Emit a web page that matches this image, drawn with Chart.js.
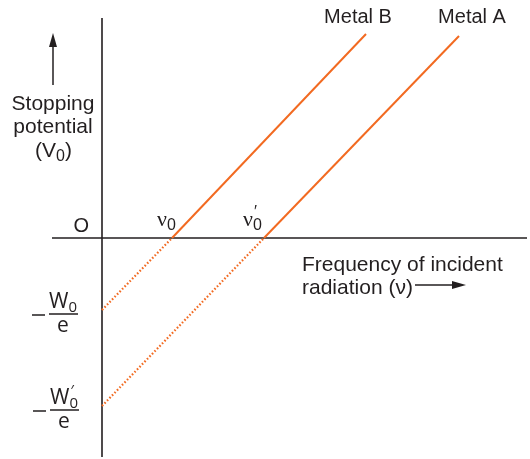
<!DOCTYPE html>
<html>
<head>
<meta charset="utf-8">
<script src="https://cdn.jsdelivr.net/npm/chart.js@4"></script>
<style>
  html, body { margin: 0; padding: 0; background: #fff; }
  #wrap { width: 530px; height: 459px; }
</style>
</head>
<body>
<div id="wrap"><canvas id="peChart" width="530" height="459"></canvas></div>
<script>
// data (arbitrary units)
const metals = ['Metal B', 'Metal A'];
const thresholdFreq = [7.0, 16.2];      // nu0, nu0'
const stopIntercept = [-7.2, -16.8];    // -W0/e, -W0'/e
const lineEndFreq = [26.4, 35.7];
const lineEndV = [20.4, 20.2];
const freqTickLabels = ['ν0', 'ν′0'];
const voltTickLabels = ['W0', 'W′0'];
const xTitle = ['Frequency of incident', 'radiation (ν)'];
const yTitle = ['Stopping', 'potential', '(V0)'];

const orange = '#f26a21';
const ink = '#231f20';

const datasets = [];
metals.forEach(function (name, i) {
    datasets.push({
        label: name,
        data: [{ x: thresholdFreq[i], y: 0 }, { x: lineEndFreq[i], y: lineEndV[i] }],
        borderColor: orange,
        borderWidth: 2,
        pointRadius: 0
    });
    datasets.push({
        label: name + ' (extrapolated)',
        data: [{ x: 0, y: stopIntercept[i] }, { x: thresholdFreq[i], y: 0 }],
        borderColor: orange,
        borderWidth: 2.2,
        borderDash: [1.6, 2],
        pointRadius: 0
    });
});

// draws "X0" with optional prime, sub is the last char
function drawSubLabel(ctx, label, x, y, mainFont, subFont) {
    const main = label.charAt(0);
    const prime = label.indexOf('′') >= 0;
    const sub = label.charAt(label.length - 1);
    ctx.textAlign = 'left';
    ctx.font = mainFont;
    ctx.fillText(main, x, y);
    const w = ctx.measureText(main).width;
    ctx.font = subFont;
    ctx.fillText(sub, x + w, y + 4);
    if (prime) ctx.fillText('′', x + w + 1, y - 9);
    return w + ctx.measureText(sub).width;
}

function arrow(ctx, x1, y1, x2, y2) {
    const a = Math.atan2(y2 - y1, x2 - x1);
    const len = 14, half = 4;
    ctx.beginPath();
    ctx.moveTo(x1, y1);
    ctx.lineTo(x2 - len * Math.cos(a), y2 - len * Math.sin(a));
    ctx.stroke();
    ctx.beginPath();
    ctx.moveTo(x2, y2);
    ctx.lineTo(x2 - len * Math.cos(a) + half * Math.sin(a), y2 - len * Math.sin(a) - half * Math.cos(a));
    ctx.lineTo(x2 - len * Math.cos(a) - half * Math.sin(a), y2 - len * Math.sin(a) + half * Math.cos(a));
    ctx.closePath();
    ctx.fill();
}

const axesPlugin = {
    id: 'axesPlugin',
    beforeDatasetsDraw(chart) {
        const { ctx, chartArea, scales } = chart;
        const ox = scales.x.getPixelForValue(0);
        const oy = scales.y.getPixelForValue(0);
        ctx.save();
        ctx.strokeStyle = ink;
        ctx.lineWidth = 1.6;
        ctx.beginPath();
        ctx.moveTo(ox, chartArea.top);
        ctx.lineTo(ox, chartArea.bottom);
        ctx.moveTo(chartArea.left, oy);
        ctx.lineTo(chartArea.right, oy);
        ctx.stroke();
        ctx.restore();
    },
    afterDraw(chart) {
        const { ctx, scales } = chart;
        const ox = scales.x.getPixelForValue(0);
        const oy = scales.y.getPixelForValue(0);
        const sans = '"Liberation Sans", Arial, sans-serif';
        const open = '"Open Sans", sans-serif';
        ctx.save();
        ctx.fillStyle = ink;
        ctx.strokeStyle = ink;
        ctx.lineWidth = 1.5;
        ctx.textBaseline = 'alphabetic';

        // metal names at top of each line
        const dx = [-8, 13];
        ctx.font = '20px ' + sans;
        ctx.textAlign = 'center';
        metals.forEach(function (name, i) {
            ctx.fillText(name, scales.x.getPixelForValue(lineEndFreq[i]) + dx[i], 23);
        });

        // origin
        ctx.textAlign = 'right';
        ctx.fillText('O', ox - 13, oy - 6);

        // frequency ticks
        const nuOff = [-15, -21];
        freqTickLabels.forEach(function (lab, i) {
            const px = scales.x.getPixelForValue(thresholdFreq[i]);
            drawSubLabel(ctx, lab, px + nuOff[i], oy - 12, '22px "Liberation Serif", serif', '16px ' + sans);
        });

        // stopping potential ticks: -W/e
        voltTickLabels.forEach(function (lab, i) {
            const py = scales.y.getPixelForValue(stopIntercept[i]) + 4;
            const fx = 49 + i;
            ctx.beginPath();
            ctx.moveTo(fx, py);
            ctx.lineTo(fx + 29, py);
            ctx.moveTo(fx - 17, py + 1);
            ctx.lineTo(fx - 4, py + 1);
            ctx.stroke();
            drawSubLabel(ctx, lab, fx, py - 6, '21px ' + open, '15px ' + open);
            ctx.font = '21px ' + open;
            ctx.textAlign = 'center';
            ctx.fillText('e', fx + 14, py + 18);
        });

        // x title with arrow
        ctx.font = '21px ' + sans;
        ctx.textAlign = 'left';
        ctx.fillText(xTitle[0], 302, 271);
        ctx.fillText(xTitle[1], 302, 294);
        arrow(ctx, 415, 285, 466, 285);

        // y title with arrow
        ctx.textAlign = 'center';
        ctx.fillText(yTitle[0], 53, 110);
        ctx.fillText(yTitle[1], 53, 133);
        const w = ctx.measureText('(V)').width;
        const vx = 53 - w / 2 - 4;
        ctx.textAlign = 'left';
        ctx.fillText('(V', vx, 157);
        const w1 = ctx.measureText('(V').width;
        ctx.font = '16px ' + sans;
        ctx.fillText('0', vx + w1, 161);
        const w2 = ctx.measureText('0').width;
        ctx.font = '21px ' + sans;
        ctx.fillText(')', vx + w1 + w2, 157);
        arrow(ctx, 53, 85, 53, 33);

        ctx.restore();
    }
};

document.addEventListener('DOMContentLoaded', function () {
    const canvas = document.getElementById('peChart');
    new Chart(canvas.getContext('2d'), {
        type: 'line',
        data: { datasets: datasets },
        options: {
            responsive: false,
            animation: false,
            layout: { padding: { left: 52, right: 3, top: 18, bottom: 2 } },
            plugins: { legend: { display: false }, tooltip: { enabled: false } },
            scales: {
                x: { type: 'linear', min: -5, max: 42.5, display: false },
                y: { type: 'linear', min: -21.9, max: 22, display: false }
            }
        },
        plugins: [axesPlugin]
    });
});
</script>
</body>
</html>
